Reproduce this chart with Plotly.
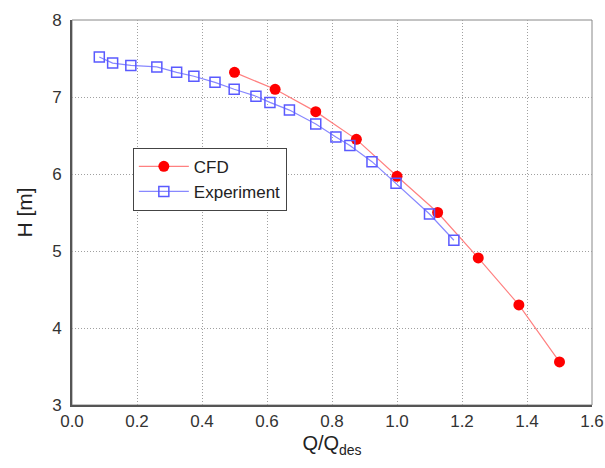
import plotly.graph_objects as go

cfd_q = [0.5, 0.625, 0.75, 0.875, 1.0, 1.125, 1.25, 1.375, 1.5]
cfd_h = [7.32, 7.10, 6.81, 6.45, 5.97, 5.50, 4.91, 4.30, 3.56]

exp_q = [0.084, 0.125, 0.181, 0.261, 0.322, 0.375, 0.44, 0.499, 0.566, 0.609,
         0.669, 0.75, 0.812, 0.855, 0.923, 0.997, 1.10, 1.175]
exp_h = [7.52, 7.44, 7.41, 7.39, 7.32, 7.27, 7.19, 7.10, 7.01, 6.93,
         6.83, 6.65, 6.48, 6.37, 6.16, 5.88, 5.48, 5.14]

x_ticks = [0.0, 0.2, 0.4, 0.6, 0.8, 1.0, 1.2, 1.4, 1.6]
y_ticks = [3, 4, 5, 6, 7, 8]

fig = go.Figure()
fig.add_trace(go.Scatter(
    x=cfd_q, y=cfd_h, name="CFD", mode="lines+markers",
    line=dict(color="#ff8080", width=1.2),
    marker=dict(symbol="circle", size=11, color="#ff0000"),
))
fig.add_trace(go.Scatter(
    x=exp_q, y=exp_h, name="Experiment", mode="lines+markers",
    line=dict(color="#8888ff", width=1.2),
    marker=dict(symbol="square-open", size=10, color="#5a5aff", line=dict(width=1.5)),
))

fig.update_layout(
    width=605, height=468,
    margin=dict(l=72, r=13, t=20, b=63),
    paper_bgcolor="white", plot_bgcolor="white",
    font=dict(family="Liberation Sans, Arial, sans-serif", color="#333333", size=17),
    showlegend=True,
    legend=dict(
        x=0.117, y=0.668, xanchor="left", yanchor="top",
        bgcolor="white", bordercolor="#444444", borderwidth=1,
        font=dict(size=17, color="#222222"),
        tracegroupgap=0, itemwidth=50,
    ),
    xaxis=dict(
        range=[0, 1.6], tickvals=x_ticks, ticktext=[f"{v:.1f}" for v in x_ticks],
        showgrid=True, gridcolor="#a0a0a0", griddash="1px,2px", gridwidth=1,
        showline=True, linecolor="#555555", linewidth=2, ticks="",
        zeroline=False, automargin="bottom",
        title=dict(text="Q/Q<sub>des</sub>", font=dict(size=20, color="#222222"), standoff=6),
    ),
    yaxis=dict(
        range=[3, 8], tickvals=y_ticks,
        showgrid=True, gridcolor="#a0a0a0", griddash="1px,2px", gridwidth=1,
        showline=True, linecolor="#555555", linewidth=2, ticks="",
        zeroline=False, automargin="left", ticklabelstandoff=5,
        title=dict(text="H [m]", font=dict(size=21, color="#222222"), standoff=14),
    ),
)

fig.add_shape(type="rect", xref="paper", yref="paper", x0=0, y0=0, x1=1, y1=1,
              line=dict(color="#888888", width=1), layer="below")

fig.write_html("out.html")
